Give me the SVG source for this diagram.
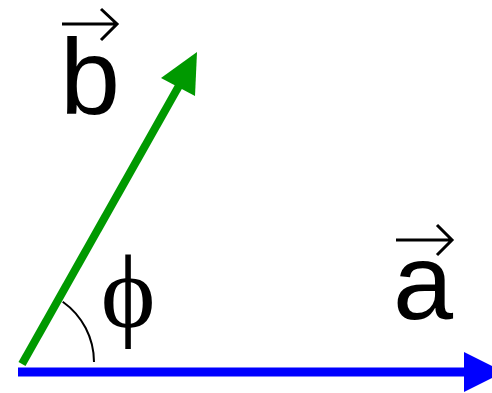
<svg xmlns="http://www.w3.org/2000/svg" width="492" height="393" viewBox="0 0 492 393">
<style>
.lbl{font-family:"Liberation Sans",Arial,sans-serif;font-size:108px;fill:#000;text-anchor:middle}
.phi{font-family:"Liberation Serif","DejaVu Serif","Times New Roman",serif;font-size:104px;fill:#000;text-anchor:middle}
.vec{fill:none;stroke:#000;stroke-width:3}
</style>
<rect width="492" height="393" fill="#fff"/>
<g id="connectors">
<g id="vec-a">
<line x1="18" y1="372" x2="468" y2="372" stroke="#0000ff" stroke-width="9"/>
<polygon points="464,352 504,372 464,392" fill="#0000ff"/>
</g>
<g id="vec-b">
<line x1="22" y1="364" x2="180" y2="84" stroke="#009900" stroke-width="8"/>
<polygon points="197,52 161,78 195,96" fill="#009900"/>
</g>
</g>
<g id="angle">
<path d="M62.7,301.7 A74,74 0 0 1 94,362" fill="none" stroke="#000" stroke-width="2"/>
<text class="phi" x="128" y="327">ϕ</text>
</g>
<g id="label-a">
<text class="lbl" x="423" y="319">a</text>
<path class="vec" d="M396,240 H452 M437,225 L452,240 L437,255"/>
</g>
<g id="label-b">
<text class="lbl" x="90" y="114">b</text>
<path class="vec" d="M62,24 H117 M101,9 L117,24 L101,40"/>
</g>
</svg>
